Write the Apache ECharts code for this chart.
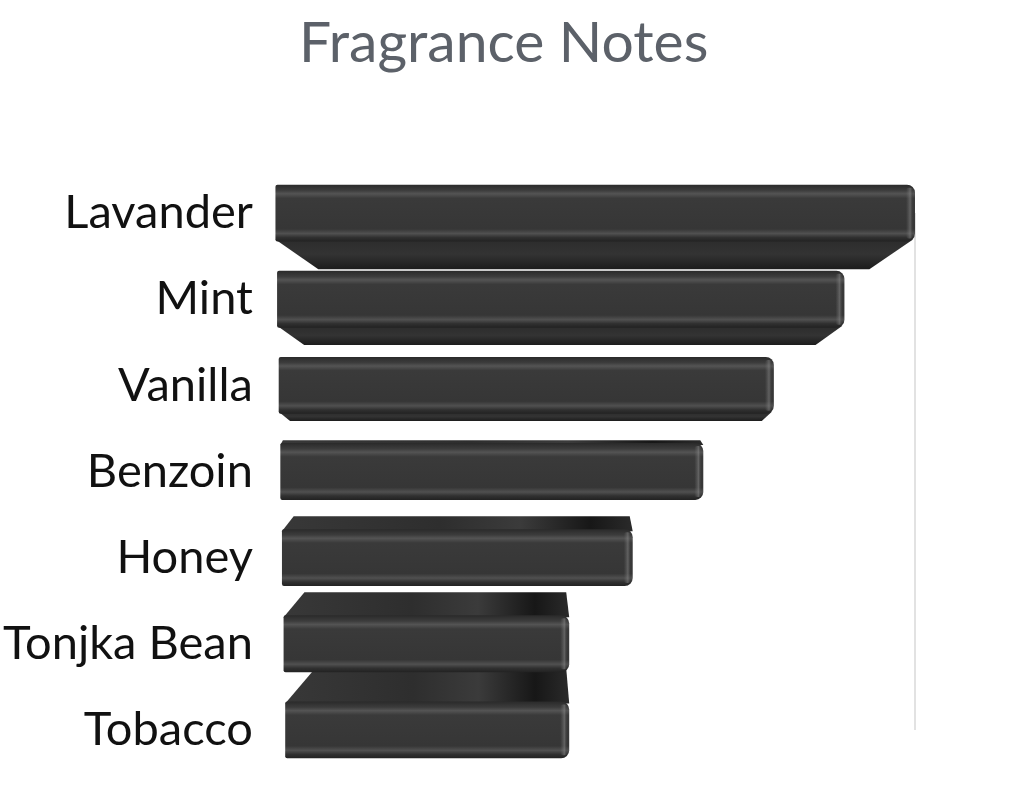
<!DOCTYPE html>
<html><head><meta charset="utf-8">
<script src="https://cdn.jsdelivr.net/npm/echarts@6.0.0/dist/echarts.min.js"></script>
<style>html,body{margin:0;padding:0;background:#fff}#c{width:1026px;height:796px}</style>
</head><body><div id="c"></div>
<script>
const categories = ['Lavander', 'Mint', 'Vanilla', 'Benzoin', 'Honey', 'Tonjka Bean', 'Tobacco'];
const values = [9, 8, 7, 6, 5, 4.1, 4.1];
const axisMax = 9;
const titleText = 'Fragrance Notes';

const chart = echarts.init(document.getElementById('c'));

function renderItem(params, api) {
  const val = api.value(0), ci = api.value(1);
  const p0 = api.coord([0, ci]);
  const p1 = api.coord([val, ci]);
  const band = api.size([0, 1])[1];
  const h = band * 0.66;
  const cs = params.coordSys;
  const vp = cs.y + cs.height * 0.46;
  const d = (p1[1] - vp) * 0.118;
  const x0 = p0[0] + d * 0.16;
  const x1 = p1[0];
  const yt = p1[1] - h / 2, yb = p1[1] + h / 2;
  const children = [];
  if (d < -2) {
    const ad = -d;
    children.push({
      type: 'polygon', z2: 1,
      shape: { points: [[x0, yb - 2], [x1 - 2, yb - 2], [x1 - ad * 1.65, yb + ad], [x0 + ad * 1.55, yb + ad]] },
      style: { fill: new echarts.graphic.LinearGradient(0, 0, 0, 1, [
        { offset: 0, color: '#2c2c2c' }, { offset: 0.5, color: '#333' }, { offset: 1, color: '#1c1c1c' }]) }
    });
  } else if (d > 2) {
    children.push({
      type: 'polygon', z2: 1,
      shape: { points: [[x0, yt + 2], [x0 + d * 0.9, yt - d], [x1 - 3, yt - d], [x1, yt + 2]] },
      style: { fill: new echarts.graphic.LinearGradient(0, 0, 1, 0, [
        { offset: 0, color: '#383838' }, { offset: 0.45, color: '#2e2e2e' },
        { offset: 0.68, color: '#3b3b3b' }, { offset: 0.88, color: '#171717' }, { offset: 1, color: '#2a2a2a' }]) }
    });
  }
  children.push({
    type: 'rect', z2: 10,
    shape: { x: x0, y: yt, width: x1 - x0, height: h, r: [2, 8, 8, 2] },
    style: { fill: new echarts.graphic.LinearGradient(0, 0, 0, 1, [
      { offset: 0, color: '#2a2a2a' }, { offset: 0.1, color: '#3c3c3c' },
      { offset: 0.16, color: '#545454' }, { offset: 0.24, color: '#3a3a3a' },
      { offset: 0.78, color: '#363636' }, { offset: 0.86, color: '#505050' },
      { offset: 0.93, color: '#303030' }, { offset: 1, color: '#222' }]) }
  });
  children.push({
    type: 'rect', z2: 11,
    shape: { x: x1 - 9, y: yt + 3, width: 7, height: h - 6, r: 3 },
    style: { fill: new echarts.graphic.LinearGradient(0, 0, 1, 0, [
      { offset: 0, color: 'rgba(120,120,120,0)' }, { offset: 0.6, color: 'rgba(140,140,140,0.5)' },
      { offset: 1, color: 'rgba(60,60,60,0.2)' }]) }
  });
  return { type: 'group', children };
}

chart.setOption({
  animation: false,
  backgroundColor: '#fff',
  title: {
    text: titleText, left: 294, top: 10,
    textStyle: { fontFamily: 'Lato', fontSize: 57, fontWeight: 'normal', color: '#5c6169' }
  },
  grid: { left: 278, right: 111, top: 170, bottom: 23, containLabel: false },
  xAxis: {
    type: 'value', min: 0, max: axisMax,
    axisLine: { show: false }, axisTick: { show: false }, axisLabel: { show: false }, splitLine: { show: false }
  },
  yAxis: {
    type: 'category', data: categories, inverse: true,
    axisLine: { show: false }, axisTick: { show: false },
    axisLabel: { fontFamily: 'Lato', fontSize: 47, color: '#111', margin: 27 }
  },
  series: [
    {
      type: 'line', z: 1, symbol: 'none', silent: true,
      lineStyle: { color: '#d8d8d8', width: 1.5 },
      data: [[axisMax, categories[0]], [axisMax, categories[categories.length - 1]]]
    },
    {
      type: 'custom', z: 5, renderItem,
      encode: { x: 0, y: 1 },
      data: values.map((v, i) => [v, i])
    }
  ]
});
</script>
</body></html>
